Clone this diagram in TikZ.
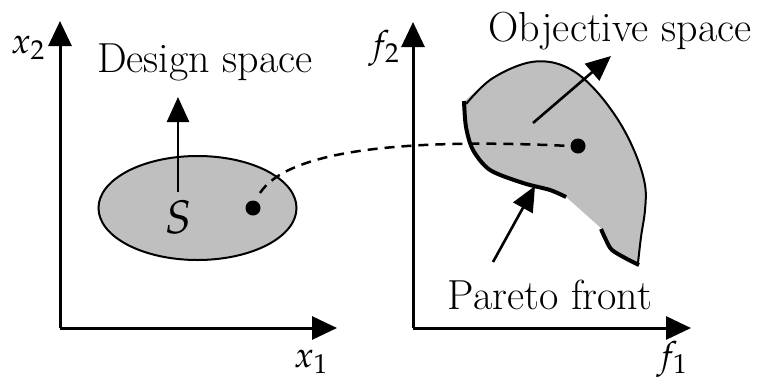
\documentclass[tikz,border=0pt]{standalone}
\usepackage{mathpazo}
\usetikzlibrary{arrows.meta,shapes.geometric}
\begin{document}
\begin{tikzpicture}[x=1pt,y=-1pt,
  axis/.style={line width=3pt,-{Triangle[length=25pt,width=23pt]}},
  pointer/.style={line width=2.6pt,-{Triangle[length=25pt,width=22pt]}},
  lbl/.style={font=\fontsize{36}{43}\selectfont,inner sep=0pt},
  wlbl/.style={font=\fontsize{42}{50}\selectfont,inner sep=0pt},
  dot/.style={circle,fill=black,inner sep=0pt,minimum size=15pt},
  region/.style={fill=gray!50!white},
]
\useasboundingbox (0,0) rectangle (760,381);
% left axes
\coordinate (o1) at (60,328);
\coordinate (x1end) at (337,328);
\coordinate (x2end) at (60,21);
\draw[axis] (o1) -- (x1end);
\draw[axis] (o1) -- (x2end);
\node[lbl,anchor=base] (x1lab) at (311,367) {$x_1$};
\node[lbl,anchor=base] (x2lab) at (28,53) {$x_2$};
% design space
\node[region,draw=black,line width=2pt,ellipse,minimum width=198pt,minimum height=104pt] (ell) at (197.5,208) {};
\node[font=\fontsize{47}{56}\selectfont,inner sep=0pt,anchor=base] (S) at (179,233) {$S$};
\coordinate (darr) at (178,97);
\coordinate (dtail) at (178,192);
\draw[pointer] (dtail) -- (darr);
\node[wlbl,anchor=base] (dlab) at (205,72) {Design space};
\node[dot] (d1) at (253,208) {};
% right axes
\coordinate (o2) at (413,328);
\coordinate (f1end) at (691,328);
\coordinate (f2end) at (413,22);
\draw[axis] (o2) -- (f1end);
\draw[axis] (o2) -- (f2end);
\node[lbl,anchor=base] (f1lab) at (672,367) {$f_1$};
\node[lbl,anchor=base] (f2lab) at (384,56) {$f_2$};
% objective region
\fill[region] plot[smooth,tension=0.6] coordinates {(464,102) (490,80) (523,64) (550,62) (575,72) (598,93) (620,123) (636,155) (645,185) (645,210) (641,237) (638,263)}
  -- plot[smooth] coordinates {(638,264) (627,259) (612,250) (606,240) (602,229)}
  -- plot[smooth] coordinates {(565,196) (550,190) (523,183) (490,170) (473,150) (467,127) (465,102)} -- cycle;
\draw[line width=2pt] plot[smooth,tension=0.6] coordinates {(466,104) (490,80) (523,64) (550,62) (575,72) (598,93) (620,123) (636,155) (645,185) (645,210) (641,237) (638,263)};
\draw[line width=4pt] plot[smooth] coordinates {(464,101) (466,127) (473,150) (490,170) (523,183) (550,190) (566,197)};
\draw[line width=4pt] plot[smooth] coordinates {(601,229) (606,240) (612,250) (627,259) (639,265)};
\node[dot] (d2) at (578,146) {};
\draw[line width=2.5pt,dash pattern=on 10pt off 7pt] (260,193) .. controls (288,150) and (405,138) .. (d2.west);
% pointers
\coordinate (ot) at (533,123);
\coordinate (oh) at (611,56);
\draw[pointer] (ot) -- (oh);
\node[wlbl,anchor=base] (olab) at (620,41) {Objective space};
\coordinate (pt) at (493,262);
\coordinate (ph) at (535,186);
\draw[pointer] (pt) -- (ph);
\node[wlbl,anchor=base] (plab) at (550,309) {Pareto front};
\end{tikzpicture}
\end{document}
